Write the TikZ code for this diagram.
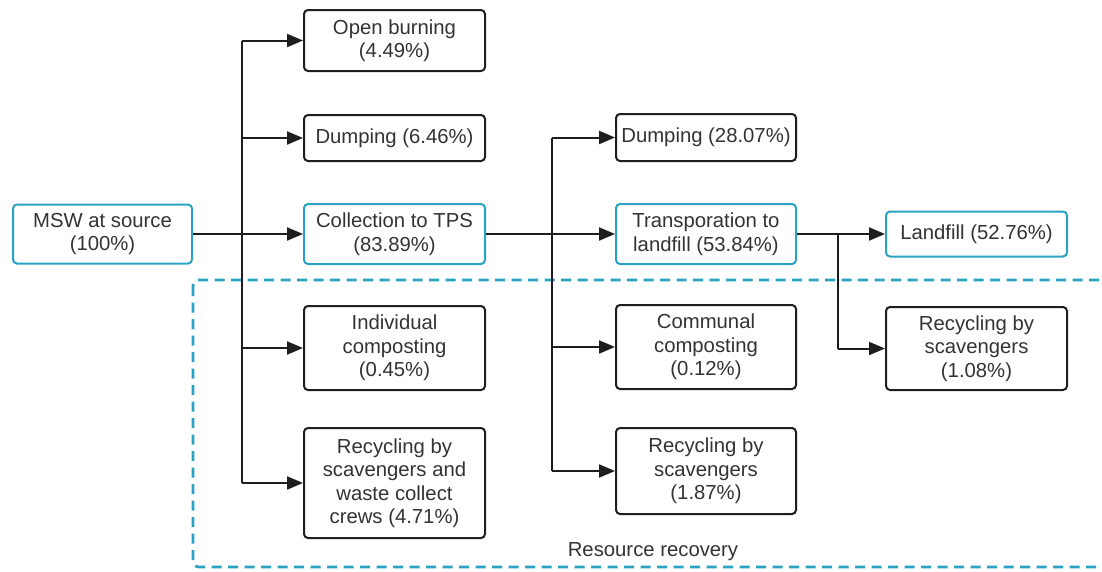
\documentclass[tikz,border=0pt]{standalone}
\usepackage{fontspec}
\setmainfont{Liberation Sans}
\usetikzlibrary{arrows.meta}
\definecolor{bluebox}{HTML}{2AA2C4}
\definecolor{txt}{HTML}{333333}
\definecolor{edge}{HTML}{1E1E1E}
\begin{document}
\begin{tikzpicture}[x=1pt,y=-1pt,
  box/.style={draw=edge,line width=2pt,rounded corners=4pt,align=center,
    text=txt,inner sep=2pt,font=\fontsize{20.3}{23.5}\selectfont},
  bbox/.style={box,draw=bluebox},
  conn/.style={draw=edge,line width=2pt},
  arr/.style={conn,-{Triangle[length=16pt,width=13pt]}}]
\clip (0,0) rectangle (1102,571);
\fill[white] (0,0) rectangle (1102,571);
% resource recovery region
\draw[bluebox,line width=2.8pt,dash pattern=on 10pt off 6.5pt,rounded corners=6pt]
  (193,280) rectangle (1125,567);
\node[text=txt,font=\fontsize{20.3}{23.5}\selectfont] (rr) at (653,552) {Resource recovery};
% column 0
\node[bbox,minimum width=179pt,minimum height=59pt] (msw) at (102.5,234) {MSW at source\\(100\%)};
% column 1
\node[box,minimum width=181pt,minimum height=61pt] (ob) at (394.5,40.5) {Open burning\\(4.49\%)};
\node[box,minimum width=181pt,minimum height=46pt] (d1) at (394.5,138) {Dumping (6.46\%)};
\node[bbox,minimum width=181pt,minimum height=60pt] (col) at (394.5,234) {Collection to TPS\\(83.89\%)};
\node[box,minimum width=181pt,minimum height=84pt] (ind) at (394.5,348) {Individual\\composting\\(0.45\%)};
\node[box,minimum width=181pt,minimum height=110pt] (rc1) at (394.5,483) {Recycling by\\scavengers and\\waste collect\\crews (4.71\%)};
% column 2
\node[box,minimum width=180pt,minimum height=47pt] (d2) at (706,137.5) {Dumping (28.07\%)};
\node[bbox,minimum width=180pt,minimum height=60pt] (tr) at (706,234) {Transporation to\\landfill (53.84\%)};
\node[box,minimum width=180pt,minimum height=84pt] (com) at (706,347) {Communal\\composting\\(0.12\%)};
\node[box,minimum width=180pt,minimum height=86pt] (rc2) at (706,471) {Recycling by\\scavengers\\(1.87\%)};
% column 3
\node[bbox,minimum width=181pt,minimum height=45pt] (lf) at (976.5,234) {Landfill (52.76\%)};
\node[box,minimum width=181pt,minimum height=83pt] (rc3) at (976.5,348.5) {Recycling by\\scavengers\\(1.08\%)};
% trunks
\coordinate (t1) at (242,234);
\coordinate (t2) at (552,234);
\coordinate (t3) at (838,234);
\draw[conn] (t1 |- ob.west) -- (t1 |- rc1.west);
\foreach \n in {ob,d1,ind,rc1} \draw[arr] (t1 |- \n.west) -- (\n.west);
\draw[arr] (msw.east) -- (col.west);
\draw[conn] (t2 |- d2.west) -- (t2 |- rc2.west);
\foreach \n in {d2,com,rc2} \draw[arr] (t2 |- \n.west) -- (\n.west);
\draw[arr] (col.east) -- (tr.west);
\draw[conn] (t3 |- lf.west) -- (t3 |- rc3.west);
\draw[arr] (t3 |- rc3.west) -- (rc3.west);
\draw[arr] (tr.east) -- (lf.west);
\end{tikzpicture}
\end{document}
